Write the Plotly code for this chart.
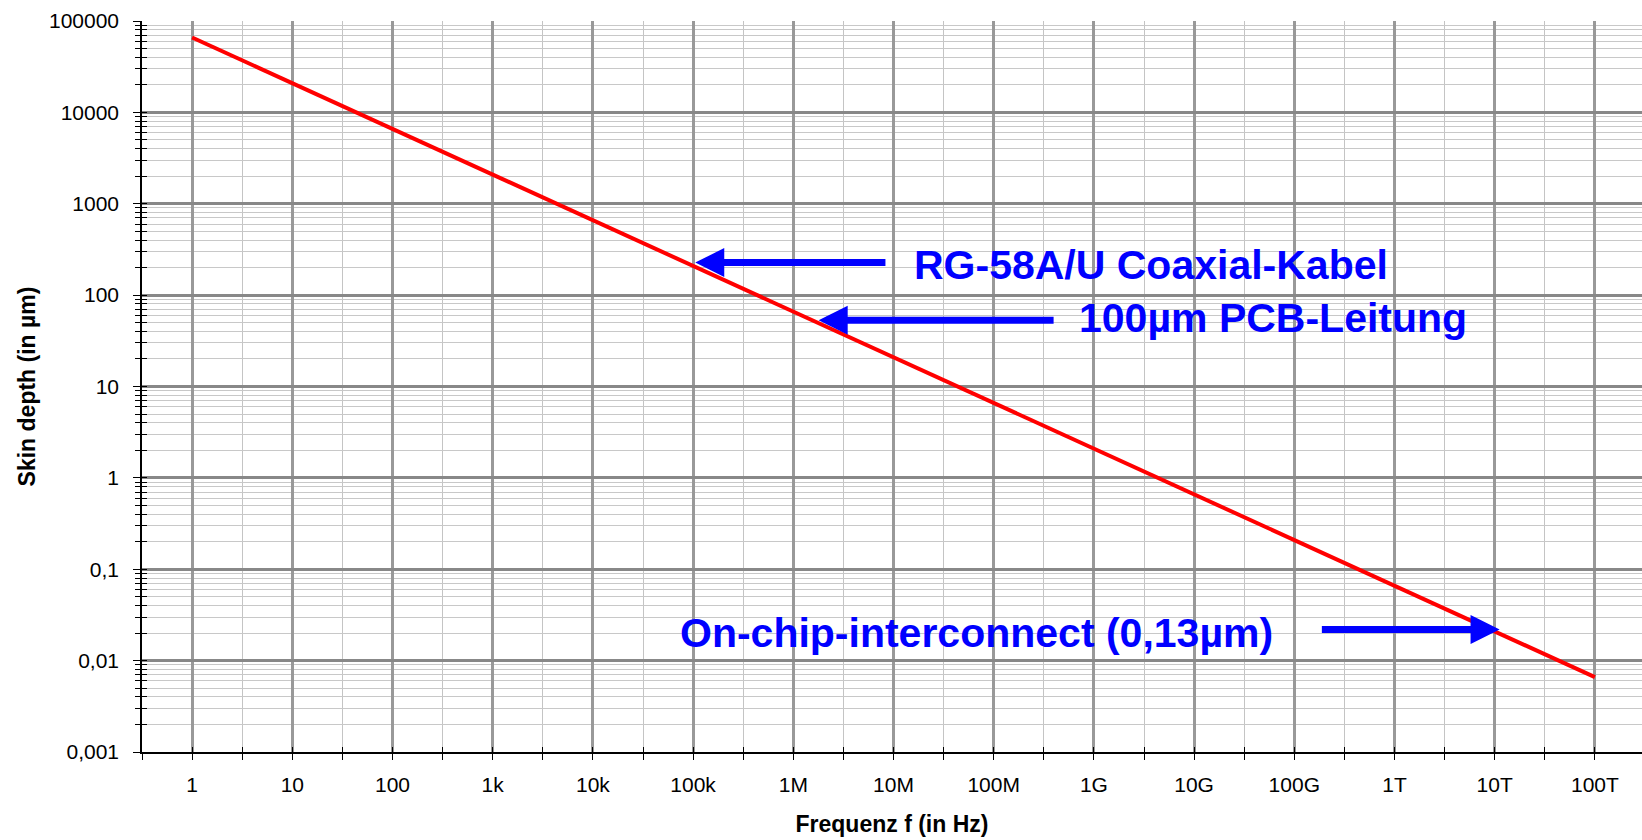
import math
import plotly.graph_objects as go

# ---- data ----
freq_hz = [1, 10, 100, 1e3, 1e4, 1e5, 1e6, 1e7, 1e8, 1e9, 1e10, 1e11, 1e12, 1e13, 1e14]
skin_depth_um = [66000, 20900, 6600, 2090, 660, 209, 66, 20.9, 6.6, 2.09, 0.66, 0.209, 0.066, 0.0209, 0.0066]

x_tick_vals = [1, 10, 100, 1e3, 1e4, 1e5, 1e6, 1e7, 1e8, 1e9, 1e10, 1e11, 1e12, 1e13, 1e14]
x_tick_text = ["1", "10", "100", "1k", "10k", "100k", "1M", "10M", "100M", "1G", "10G", "100G", "1T", "10T", "100T"]
x_minor_vals = [10 ** (k + 0.5) for k in range(-1, 15)]

y_tick_vals = [0.001, 0.01, 0.1, 1, 10, 100, 1000, 10000, 100000]
y_tick_text = ["0,001", "0,01", "0,1", "1", "10", "100", "1000", "10000", "100000"]
y_minor_vals = [m * 10 ** k for k in range(-3, 5) for m in range(2, 10)]

label_texts = ["RG-58A/U Coaxial-Kabel", "100µm PCB-Leitung", "On-chip-interconnect (0,13µm)"]

FONT = "Liberation Sans, Arial, sans-serif"
BLUE = "#0000FF"

fig = go.Figure()
fig.add_trace(go.Scatter(x=freq_hz, y=skin_depth_um, mode="lines",
                         line=dict(color="#FF0000", width=4), hoverinfo="skip",
                         showlegend=False))
# invisible trace so the overlay axes (crossing ticks) are drawn
fig.add_trace(go.Scatter(x=freq_hz, y=skin_depth_um, mode="lines", xaxis="x2", yaxis="y2",
                         line=dict(color="rgba(0,0,0,0)", width=0), hoverinfo="skip",
                         showlegend=False))

xr = [-0.5, 14.47]
yr = [-3, 5]

fig.update_layout(
    width=1642, height=840,
    margin=dict(l=142, r=0, t=21, b=88),
    paper_bgcolor="white", plot_bgcolor="white",
    font=dict(family=FONT, color="black"),
    showlegend=False,
    xaxis=dict(
        type="log", range=xr, tickmode="array", tickvals=x_tick_vals, ticktext=x_tick_text,
        ticks="outside", ticklen=6, tickwidth=1, tickcolor="black",
        showline=True, linecolor="black", linewidth=1.5,
        showgrid=True, gridcolor="#999999", gridwidth=3,
        minor=dict(tickmode="array", tickvals=x_minor_vals, ticks="outside", ticklen=6,
                   tickwidth=1, tickcolor="black", showgrid=True, gridcolor="#c4c4c4", gridwidth=1),
        tickfont=dict(size=21, family=FONT, color="black"),
        ticklabelstandoff=7,
        title=dict(text="<b>Frequenz f (in Hz)</b>", font=dict(size=23, family=FONT, color="black"),
                   standoff=21),
    ),
    xaxis2=dict(
        type="log", range=xr, overlaying="x", anchor="y2", side="bottom",
        tickmode="array", tickvals=x_tick_vals, showticklabels=False,
        ticks="inside", ticklen=5, tickwidth=1, tickcolor="black",
        showgrid=False, showline=False,
        minor=dict(tickmode="array", tickvals=x_minor_vals, ticks="inside", ticklen=5,
                   tickwidth=1, tickcolor="black", showgrid=False),
    ),
    yaxis=dict(
        type="log", range=yr, tickmode="array", tickvals=y_tick_vals, ticktext=y_tick_text,
        ticks="outside", ticklen=7, tickwidth=1, tickcolor="black",
        showline=True, linecolor="black", linewidth=1.5,
        showgrid=True, gridcolor="#888888", gridwidth=3,
        minor=dict(tickmode="array", tickvals=y_minor_vals, ticks="outside", ticklen=5,
                   tickwidth=1, tickcolor="black", showgrid=True, gridcolor="#c8c8c8", gridwidth=1),
        tickfont=dict(size=21, family=FONT, color="black"),
        ticklabelstandoff=10,
        title=dict(text="<b>Skin depth (in µm)</b>", font=dict(size=23, family=FONT, color="black"),
                   standoff=7),
    ),
    yaxis2=dict(
        type="log", range=yr, overlaying="y", anchor="x2", side="left",
        tickmode="array", tickvals=y_tick_vals, showticklabels=False,
        ticks="inside", ticklen=5, tickwidth=1, tickcolor="black",
        showgrid=False, showline=False,
        minor=dict(tickmode="array", tickvals=y_minor_vals, ticks="inside", ticklen=5,
                   tickwidth=1, tickcolor="black", showgrid=False),
    ),
)

# arrows: (tip frequency, tip depth, tail frequency)
arrows = [
    (1.05e5, 227, 8.6e6),
    (1.79e6, 53, 4.1e8),
    (1.82e11, 0.0219, 1.12e13),
]
arrow_dirs = ["left", "left", "right"]
for (f_a, d_a, f_b), direction in zip(arrows, arrow_dirs):
    if direction == "left":
        tip, tail = f_a, f_b
    else:
        tip, tail = f_b, f_a
    fig.add_annotation(
        x=math.log10(tip), y=math.log10(d_a), ax=math.log10(tail), ay=math.log10(d_a),
        xref="x", yref="y", axref="x", ayref="y", text="",
        showarrow=True, arrowhead=2, arrowsize=0.83, arrowwidth=7, arrowcolor=BLUE,
        standoff=0,
    )

# labels: (left frequency, depth at vertical centre)
label_pos = [(1.54e7, 212), (6.8e8, 56), (7.1e4, 0.02)]
for txt, (f_l, d_l) in zip(label_texts, label_pos):
    fig.add_annotation(
        x=math.log10(f_l), y=math.log10(d_l), xref="x", yref="y",
        text="<b>" + txt + "</b>", showarrow=False, xanchor="left", yanchor="middle",
        font=dict(size=41, family=FONT, color=BLUE),
    )

fig.write_html("out.html", config={"displayModeBar": False},
               post_script="document.body.style.margin='0';")
